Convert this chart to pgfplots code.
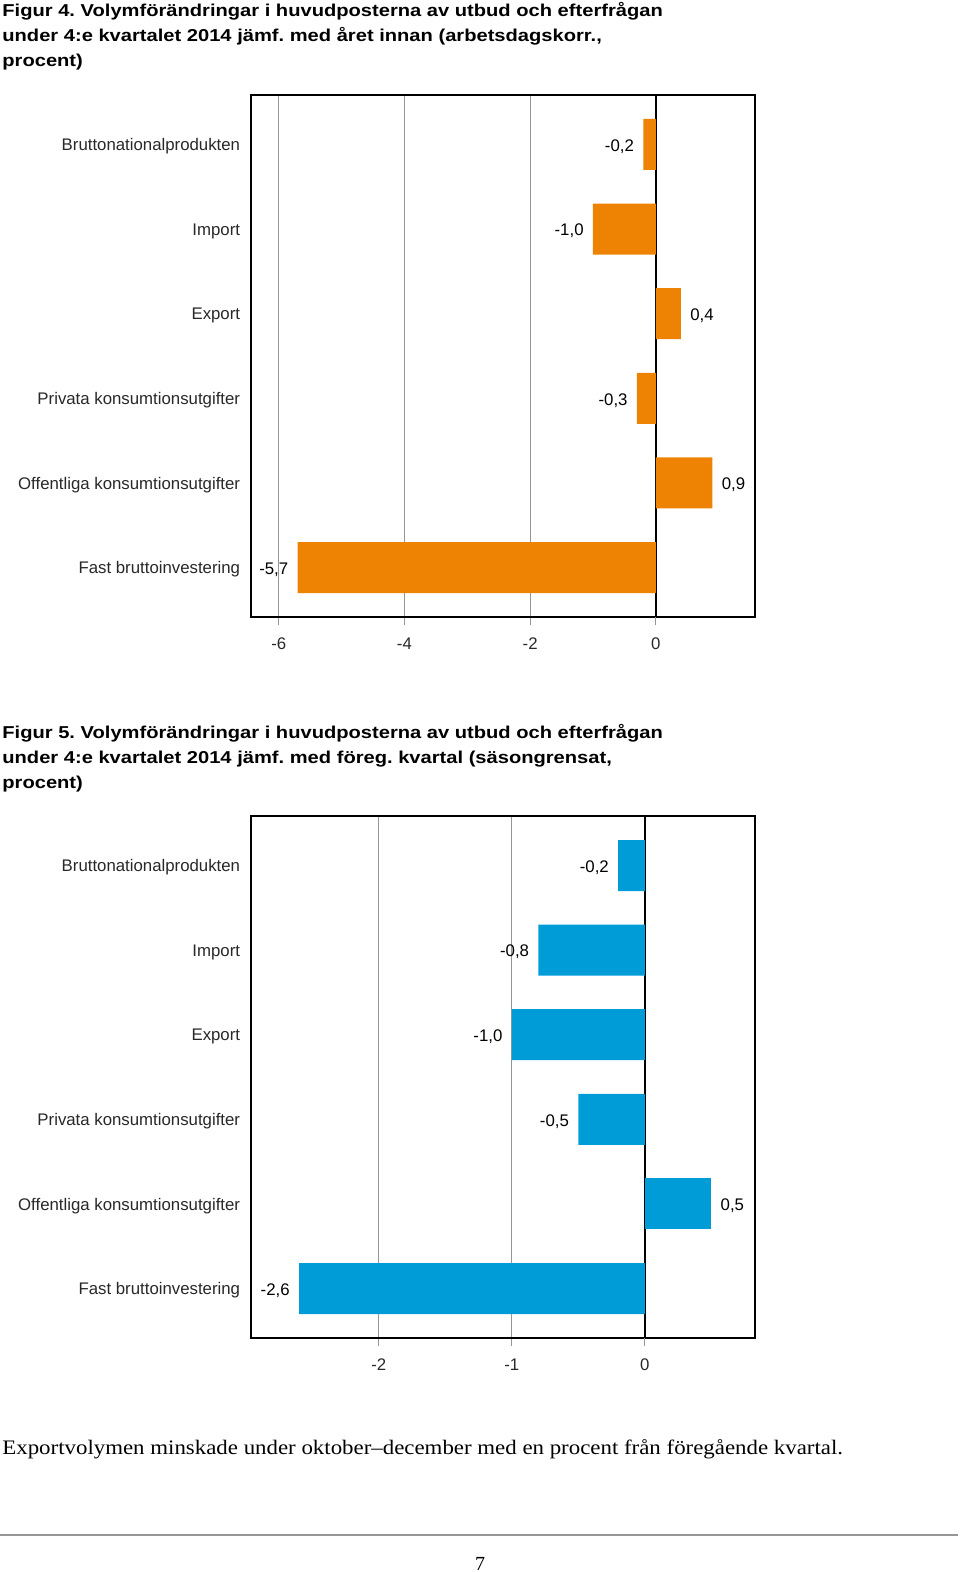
\documentclass[border=0pt]{standalone}
\usepackage{fontspec}
\setmainfont{Liberation Serif}
\setsansfont{Liberation Sans}
\newfontfamily\titfam{Liberation Sans}[FakeStretch=1.17]
\newfontfamily\txtfam{Liberation Serif}[FakeStretch=1.11]
\usepackage{pgfplots}
\usepackage{pgfplotstable}
\pgfplotsset{compat=1.18}
\definecolor{scborange}{RGB}{238,130,3}
\definecolor{scbblue}{RGB}{0,156,216}
\definecolor{gridgray}{RGB}{150,150,150}
\definecolor{labgray}{RGB}{40,40,40}
\frenchspacing

% chart 1: change vs same quarter previous year
\pgfplotstableread{
x y label
-0.2 0 -0,2
-1.0 1 -1,0
-0.3 3 -0,3
-5.7 5 -5,7
}\negA
\pgfplotstableread{
x y label
0.4 2 0,4
0.9 4 0,9
}\posA
% chart 2: change vs previous quarter
\pgfplotstableread{
x y label
-0.2 0 -0,2
-0.8 1 -0,8
-1.0 2 -1,0
-0.5 3 -0,5
-2.6 5 -2,6
}\negB
\pgfplotstableread{
x y label
0.5 4 0,5
}\posB

\newcommand{\axfont}{\sffamily\fontsize{8.4}{10}\selectfont}
\newcommand{\titfont}{\titfam\bfseries\fontsize{8.6}{12.5}\selectfont}

\pgfplotsset{
  scbbar/.style={
    scale only axis,
    width=252pt, height=261pt,
    xbar, bar width=25.5pt,
    y dir=reverse,
    ymin=-0.585, ymax=5.585,
    ytick={0,1,2,3,4,5},
    yticklabels={Bruttonationalprodukten,Import,Export,Privata konsumtionsutgifter,Offentliga konsumtionsutgifter,Fast bruttoinvestering},
    ytick style={draw=none},
    tick align=outside,
    major tick length=4pt,
    xtick pos=left,
    x tick style={gridgray, line width=0.5pt},
    axis line style={black, line width=1pt},
    xmajorgrids,
    grid style={gridgray, line width=0.5pt},
    extra x ticks={0},
    extra x tick labels={0},
    extra x tick style={grid style={black, line width=0.7pt}},
    tick label style={font=\axfont, text=labgray},
    yticklabel style={inner sep=1pt, yshift=-1pt},
    xticklabel style={yshift=-3pt},
    point meta=explicit symbolic,
    clip=false,
    negbar/.style={draw=none, bar shift=0pt, nodes near coords,
      every node near coord/.append style={anchor=east, inner sep=4.5pt, yshift=-1pt, font=\axfont, text=black}},
    posbar/.style={draw=none, bar shift=0pt, nodes near coords,
      every node near coord/.append style={anchor=west, inner sep=4.5pt, yshift=-1pt, font=\axfont, text=black}},
  }
}

\begin{document}
\begin{tikzpicture}
\path[use as bounding box] (0,0) rectangle (480pt,-786pt);

% Titles figure 4
\node[anchor=base west, inner sep=0pt, font=\titfont] at (1pt,-8.5pt) {Figur 4. Volymförändringar i huvudposterna av utbud och efterfrågan};
\node[anchor=base west, inner sep=0pt, font=\titfont] at (1pt,-21pt) {under 4:e kvartalet 2014 jämf. med året innan (arbetsdagskorr.,};
\node[anchor=base west, inner sep=0pt, font=\titfont] at (1pt,-33.5pt) {procent)};

\begin{axis}[scbbar, at={(125.25pt,-308.5pt)}, anchor=south west,
  xmin=-6.45, xmax=1.57,
  xtick={-6,-4,-2}, xticklabels={-6,-4,-2}]
  \addplot[negbar, fill=scborange] table[x=x, y=y, meta=label] {\negA};
  \addplot[posbar, fill=scborange] table[x=x, y=y, meta=label] {\posA};
\end{axis}

% Titles figure 5
\node[anchor=base west, inner sep=0pt, font=\titfont] at (1pt,-369pt) {Figur 5. Volymförändringar i huvudposterna av utbud och efterfrågan};
\node[anchor=base west, inner sep=0pt, font=\titfont] at (1pt,-381.5pt) {under 4:e kvartalet 2014 jämf. med föreg. kvartal (säsongrensat,};
\node[anchor=base west, inner sep=0pt, font=\titfont] at (1pt,-394pt) {procent)};

\begin{axis}[scbbar, at={(125.25pt,-669pt)}, anchor=south west,
  xmin=-2.965, xmax=0.825,
  xtick={-2,-1}, xticklabels={-2,-1}]
  \addplot[negbar, fill=scbblue] table[x=x, y=y, meta=label] {\negB};
  \addplot[posbar, fill=scbblue] table[x=x, y=y, meta=label] {\posB};
\end{axis}

\node[anchor=base west, inner sep=0pt, font=\txtfam\fontsize{10.3}{12}\selectfont] at (1pt,-727pt) {Exportvolymen minskade under oktober–december med en procent från föregående kvartal.};

\draw[gridgray, line width=1pt] (0pt,-767.5pt) -- (479pt,-767.5pt);
\node[anchor=base, inner sep=0pt, font=\rmfamily\fontsize{10}{12}\selectfont] at (240pt,-785pt) {7};
\end{tikzpicture}
\end{document}
